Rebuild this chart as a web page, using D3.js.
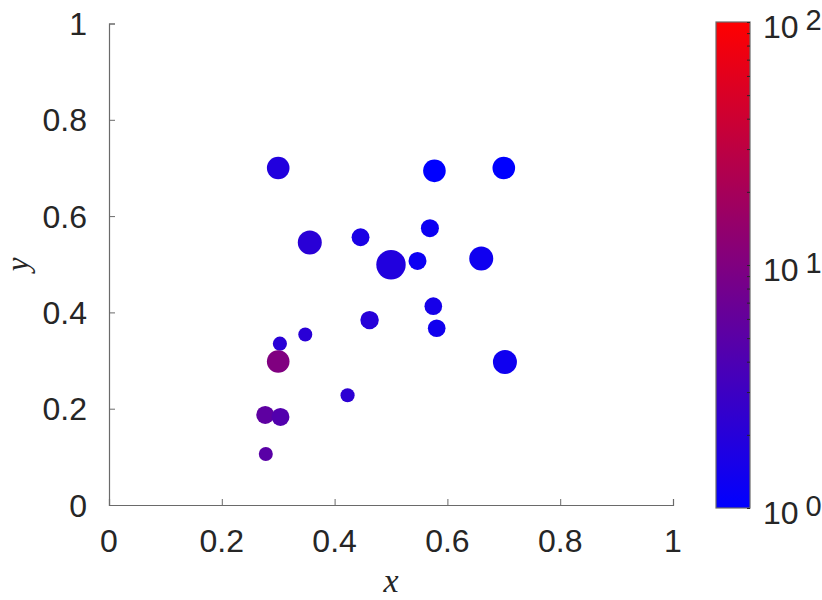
<!DOCTYPE html>
<html>
<head>
<meta charset="utf-8">
<script src="https://cdn.jsdelivr.net/npm/d3@7"></script>
<style>
  body { margin: 0; background: #fff; }
  text { font-family: "Liberation Sans", Arial, sans-serif; }
</style>
</head>
<body>
<div id="chart"></div>
<script>
// scatter data
var xVals = [0.300, 0.577, 0.700, 0.356, 0.446, 0.569, 0.500, 0.547, 0.660, 0.575,
             0.462, 0.581, 0.702, 0.303, 0.348, 0.300, 0.423, 0.277, 0.304, 0.278];
var yVals = [0.700, 0.694, 0.700, 0.545, 0.556, 0.575, 0.499, 0.507, 0.512, 0.413,
             0.384, 0.367, 0.297, 0.335, 0.354, 0.298, 0.228, 0.187, 0.183, 0.106];
// marker area
var sizes = [128, 128, 128, 144, 80, 81, 216, 81, 144, 78,
             85, 78, 144, 50, 49, 128, 50, 81, 81, 49];
// colour value (log scale, 1..100)
var cVals = [1.8, 1.0, 1.0, 2.1, 1.6, 1.25, 1.8, 1.25, 1.3, 1.5,
             2.0, 1.35, 1.3, 2.1, 2.1, 10, 2.2, 5.5, 4.4, 5.0];

var xTicks = [0, 0.2, 0.4, 0.6, 0.8, 1];
var yTicks = [0, 0.2, 0.4, 0.6, 0.8, 1];
var cbMajor = [1, 10, 100];
var cbLabels = ["0", "1", "2"];

var width = 822, height = 600;
var margin = {left: 109, right: 673, top: 23.5, bottom: 505};

var svg = d3.select("#chart").append("svg")
    .attr("width", width)
    .attr("height", height);

var x = d3.scaleLinear().domain([0, 1]).range([margin.left, margin.right]);
var y = d3.scaleLinear().domain([0, 1]).range([margin.bottom, margin.top]);
var r = d3.scaleSqrt().domain([0, 216]).range([0, 14.7]);
var color = d3.scaleLog().domain([1, 100]).range(["blue", "red"])
    .interpolate(d3.interpolateRgb);

var axisColor = "#6a6a6a", textColor = "#262626";

// points
var pts = d3.range(xVals.length);
svg.append("g").selectAll("circle")
    .data(pts)
    .enter().append("circle")
    .attr("cx", function(i) { return x(xVals[i]); })
    .attr("cy", function(i) { return y(yVals[i]); })
    .attr("r", function(i) { return r(sizes[i]); })
    .attr("fill", function(i) { return color(cVals[i]); });

// axes (ticks inward)
var xAxis = svg.append("g")
    .attr("transform", "translate(0," + margin.bottom + ")")
    .call(d3.axisTop(x).tickValues(xTicks).tickSize(6).tickFormat(""));
var yAxis = svg.append("g")
    .attr("transform", "translate(" + margin.left + ",0)")
    .call(d3.axisRight(y).tickValues(yTicks).tickSize(6).tickFormat(""));

[xAxis, yAxis].forEach(function(a) {
    a.select(".domain").attr("stroke", axisColor).attr("stroke-width", 1.2);
    a.selectAll(".tick line").attr("stroke", axisColor).attr("stroke-width", 1);
});

svg.append("g").selectAll("text")
    .data(xTicks)
    .enter().append("text")
    .attr("x", function(d) { return x(d); })
    .attr("y", 552)
    .attr("text-anchor", "middle")
    .attr("font-size", 32)
    .attr("fill", textColor)
    .text(function(d) { return d3.format("")(d); });

svg.append("g").selectAll("text")
    .data(yTicks)
    .enter().append("text")
    .attr("x", 87)
    .attr("y", function(d) { return y(d) + 11.5; })
    .attr("text-anchor", "end")
    .attr("font-size", 32)
    .attr("fill", textColor)
    .text(function(d) { return d3.format("")(d); });

// axis labels
svg.append("text")
    .attr("x", (margin.left + margin.right) / 2)
    .attr("y", 592)
    .attr("text-anchor", "middle")
    .attr("font-size", 34)
    .attr("font-style", "italic")
    .style("font-family", "'Liberation Serif', 'DejaVu Serif', serif")
    .attr("fill", textColor)
    .text("x");

svg.append("text")
    .attr("transform", "translate(28," + (margin.top + margin.bottom) / 2 + ") rotate(-90)")
    .attr("text-anchor", "middle")
    .attr("font-size", 31)
    .attr("font-style", "italic")
    .style("font-family", "'Liberation Serif', 'DejaVu Serif', serif")
    .attr("fill", textColor)
    .text("y");

// colorbar
var cbX = 716, cbW = 34, cbTop = 22, cbBot = 508;
var cb = d3.scaleLog().domain([1, 100]).range([cbBot, cbTop]);

var grad = svg.append("defs").append("linearGradient")
    .attr("id", "cbgrad")
    .attr("x1", 0).attr("y1", 1).attr("x2", 0).attr("y2", 0);
grad.selectAll("stop")
    .data(d3.range(0, 1.0001, 0.1))
    .enter().append("stop")
    .attr("offset", function(t) { return t; })
    .attr("stop-color", function(t) { return color(Math.pow(10, 2 * t)); });

svg.append("rect")
    .attr("x", cbX).attr("y", cbTop)
    .attr("width", cbW).attr("height", cbBot - cbTop)
    .attr("fill", "url(#cbgrad)")
    .attr("stroke", axisColor)
    .attr("stroke-width", 1.2);

var cbTicks = [];
[1, 10].forEach(function(dec) {
    for (var k = 1; k < 10; k++) cbTicks.push(dec * k);
});
cbTicks.push(100);

var cbAxis = svg.append("g")
    .attr("transform", "translate(" + (cbX + cbW) + ",0)")
    .call(d3.axisLeft(cb).tickValues(cbTicks).tickSize(3).tickFormat(""));
cbAxis.select(".domain").remove();
cbAxis.selectAll(".tick line").attr("stroke", "#262626").attr("stroke-width", 1);

var lab = svg.append("g").selectAll("text")
    .data(cbMajor)
    .enter().append("text")
    .attr("x", 763)
    .attr("y", function(d) { return cb(d) + 16; })
    .attr("font-size", 32)
    .attr("fill", textColor);
lab.append("tspan").text("10");
lab.append("tspan")
    .attr("dx", 7)
    .attr("dy", -8)
    .attr("font-size", 29)
    .text(function(d, i) { return cbLabels[i]; });
</script>
</body>
</html>
